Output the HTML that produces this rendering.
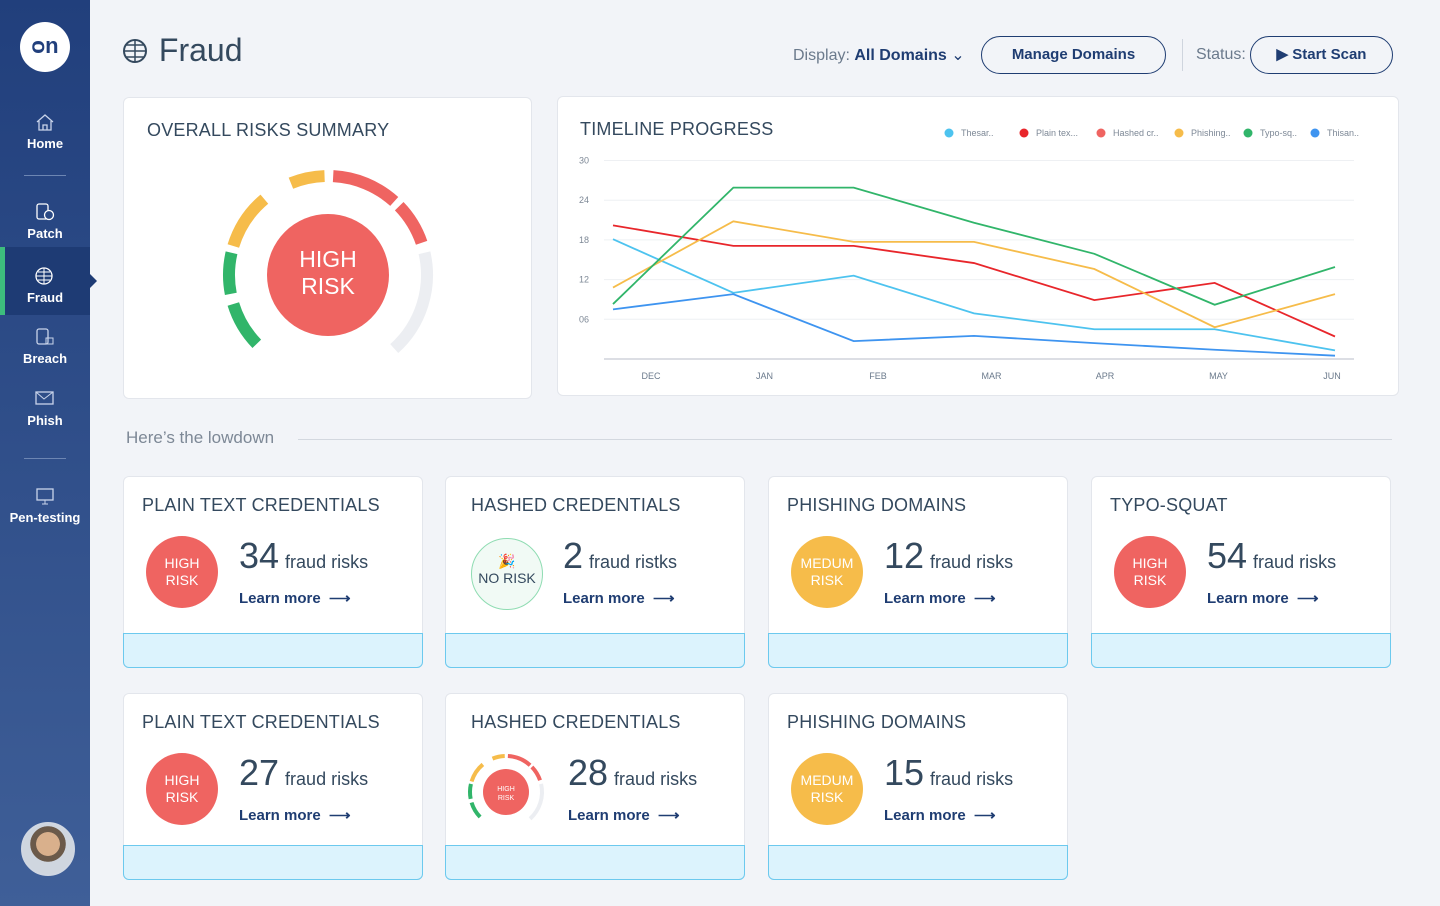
<!DOCTYPE html>
<html><head><meta charset="utf-8">
<style>
*{box-sizing:border-box;margin:0;padding:0}
body{width:1440px;height:906px;overflow:hidden;background:#f2f4f8;font-family:"Liberation Sans",sans-serif;color:#34495e;position:relative}
.abs{position:absolute}
#side{left:0;top:0;width:90px;height:906px;background:linear-gradient(#213f7c,#3f5f98)}
.nav{position:absolute;left:0;width:90px;text-align:center;color:#fff;font-size:13px;font-weight:bold}
.nav svg{display:block;margin:0 auto 4px}
.sep{position:absolute;left:24px;width:42px;height:1px;background:#6d86b3}
.card{position:absolute;background:#fff;border:1px solid #e3e6ec;border-radius:6px}
.ttl{position:absolute;font-size:18px;color:#34495e;letter-spacing:.2px}
.strip{position:absolute;left:-1px;right:-1px;bottom:-1px;height:35px;background:#dcf3fd;border:1px solid #6cc9ee;border-radius:0 0 6px 6px}
.badge{position:absolute;width:72px;height:72px;border-radius:50%;color:#fff;font-size:14px;text-align:center;line-height:17px;padding-top:19px}
.num{position:absolute;font-size:36px;color:#34495e}
.num span{font-size:18px;margin-left:6px}
.lm{position:absolute;font-size:15px;font-weight:bold;color:#1f3d72}
.btn{position:absolute;border:1.5px solid #1f3d72;border-radius:19px;color:#1f3d72;font-weight:bold;font-size:15px;text-align:center;line-height:35px}
#gauges{z-index:5;pointer-events:none}
#overall-lbl{z-index:6}
</style></head><body>
<div id="side" class="abs">
 <div class="abs" style="left:20px;top:22px;width:50px;height:50px;border-radius:50%;background:#fff;color:#213f7c;font-weight:bold;font-size:22px;text-align:center;line-height:48px">ᴑn</div>
 <div class="nav" style="top:112px"><svg width="20" height="20" viewBox="0 0 20 20"><path d="M2 10 L10 3 L18 10 M4 9 V18 H16 V9 M8 18 V13 H12 V18" fill="none" stroke="#c9d4ea" stroke-width="1.3"/></svg>Home</div>
 <div class="sep" style="top:175px"></div>
 <div class="nav" style="top:202px"><svg width="22" height="20" viewBox="0 0 22 20"><rect x="3" y="2" width="11" height="15" rx="2" fill="none" stroke="#fff" stroke-width="1.3"/><circle cx="15" cy="13" r="4.5" fill="#2b4a85" stroke="#fff" stroke-width="1.3"/></svg>Patch</div>
 <div class="abs" style="left:0;top:247px;width:90px;height:68px;background:#1e3b74"></div>
 <div class="abs" style="left:0;top:247px;width:5px;height:68px;background:#3dbd7d"></div>
 <div class="abs" style="left:90px;top:274px;width:0;height:0;border-top:7px solid transparent;border-bottom:7px solid transparent;border-left:7px solid #1e3b74"></div>
 <div class="nav" style="top:266px"><svg width="22" height="20" viewBox="0 0 22 20"><circle cx="10" cy="10" r="8" fill="none" stroke="#fff" stroke-width="1.3"/><path d="M2 10 H18 M10 2 V18 M4 6 H16 M4 14 H16" stroke="#fff" stroke-width="1"/></svg>Fraud</div>
 <div class="nav" style="top:327px"><svg width="22" height="20" viewBox="0 0 22 20"><rect x="3" y="2" width="11" height="15" rx="2" fill="none" stroke="#c9d4ea" stroke-width="1.3"/><rect x="12" y="11" width="7" height="6" fill="none" stroke="#c9d4ea"/></svg>Breach</div>
 <div class="nav" style="top:389px"><svg width="22" height="20" viewBox="0 0 22 20"><rect x="2" y="3" width="17" height="12" fill="none" stroke="#c9d4ea" stroke-width="1.3"/><path d="M2 3 L10 10 L19 3" fill="none" stroke="#c9d4ea"/></svg>Phish</div>
 <div class="sep" style="top:458px"></div>
 <div class="nav" style="top:486px"><svg width="22" height="20" viewBox="0 0 22 20"><rect x="3" y="3" width="16" height="11" fill="none" stroke="#c9d4ea" stroke-width="1.3"/><path d="M8 18 H14 M11 14 V18" stroke="#c9d4ea"/></svg>Pen-testing</div>
 <div class="abs" style="left:21px;top:822px;width:54px;height:54px;border-radius:50%;background:radial-gradient(circle at 50% 40%,#d9b08c 0 30%,#6b5a4a 31% 45%,#cfd6df 46%);border:2px solid #d0d7e2"></div>
</div>

<div class="abs" style="left:122px;top:32px;font-size:32px;color:#34495e"><svg width="28" height="28" viewBox="0 0 28 28" style="vertical-align:-4px"><circle cx="13" cy="14" r="11" fill="none" stroke="#34495e" stroke-width="2"/><path d="M2 14 H24 M13 3 V25 M4 8 H22 M4 20 H22" stroke="#34495e" stroke-width="1.5"/></svg> Fraud</div>
<div class="abs" style="left:793px;top:45px;font-size:16px;color:#6b7a8c">Display: <b style="color:#1f3d72">All Domains</b> <span style="color:#1f3d72">⌄</span></div>
<div class="btn" style="left:981px;top:36px;width:185px;height:38px">Manage Domains</div>
<div class="abs" style="left:1182px;top:39px;width:1px;height:32px;background:#cfd5de"></div>
<div class="abs" style="left:1196px;top:46px;font-size:16px;color:#6b7a8c">Status:</div>
<div class="btn" style="left:1250px;top:36px;width:143px;height:38px">▶ Start Scan</div>

<div class="card" style="left:123px;top:97px;width:409px;height:302px">
 <div class="ttl" style="left:23px;top:22px">OVERALL RISKS SUMMARY</div>
</div>

<div class="card" style="left:557px;top:96px;width:842px;height:300px">
 <div class="ttl" style="left:22px;top:22px">TIMELINE PROGRESS</div>
</div>
<svg class="abs" id="chart" style="left:0;top:0" width="1440" height="906"></svg>

<div class="abs" style="left:126px;top:428px;font-size:17px;color:#7d8896">Here’s the lowdown</div>
<div class="abs" style="left:298px;top:439px;width:1094px;height:1px;background:#d3d8df"></div>

<div id="cards"></div>
<svg class="abs" style="left:0;top:0" width="1440" height="906" id="gauges"></svg>
<div class="abs" id="overall-lbl" style="left:268px;top:246px;width:120px;text-align:center;color:#fff;font-size:23px;line-height:27px">HIGH<br>RISK</div>

<script>
// ---- chart data ----
const months=['DEC','JAN','FEB','MAR','APR','MAY','JUN'];
const yTicks=[6,12,18,24,30];
const yTickLabels=['06','12','18','24','30'];
const seriesNames=['Thesar..','Plain tex...','Hashed cr..','Phishing..','Typo-sq..','Thisan..'];
const seriesColors=['#4dc3ef','#e8262b','#ef6461','#f6bc4a','#31b56a','#3e94f0'];
const thesar=[18.1,10,12.6,6.9,4.5,4.5,1.3];
const plainText=[20.2,17.1,17.1,14.5,8.9,11.5,3.4];
const hashed=[];
const phishing=[10.8,20.8,17.7,17.7,13.6,4.8,9.8];
const typoSquat=[8.3,25.9,25.9,20.6,15.9,8.2,13.9];
const thisan=[7.5,9.8,2.7,3.5,2.4,1.4,0.5];
const allSeries=[thesar,plainText,hashed,phishing,typoSquat,thisan];

const NS='http://www.w3.org/2000/svg';
function mk(p,t,a){const e=document.createElementNS(NS,t);for(const k in a)e.setAttribute(k,a[k]);p.appendChild(e);return e;}
const ch=document.getElementById('chart');
const y0=359,yTop=160.5,yMax=30;
const ys=v=>y0-(v/yMax)*(y0-yTop);
const xs=i=>613+i*(1335-613)/(months.length-1);
const xl=i=>651+i*(1332-651)/(months.length-1);
yTicks.forEach((t,i)=>{
 const g=mk(ch,'line',{x1:604,x2:1354,y1:ys(t),y2:ys(t),stroke:'#eef0f3'});
 
 
 const tx=mk(ch,'text',{x:589,y:ys(t)+3,'text-anchor':'end','font-size':9,fill:'#7d8896','font-family':'Liberation Sans'});
 tx.textContent=yTickLabels[i];
 
 
});
const ax=mk(ch,'line',{x1:604,x2:1354,y1:y0,y2:y0,stroke:'#b8bec8'});


months.forEach((m,i)=>{
 const t=mk(ch,'text',{x:xl(i),y:379,'text-anchor':'middle','font-size':9,fill:'#6b7a8c','font-family':'Liberation Sans'});
 t.textContent=m;
 
 
});
allSeries.forEach((s,k)=>{
 if(!s.length)return;
 const p=mk(ch,'polyline',{points:s.map((v,i)=>xs(i)+','+ys(v)).join(' '),fill:'none',stroke:seriesColors[k],'stroke-width':1.8});
 
 
});
const legX=[949,1024,1101,1179,1248,1315];
seriesNames.forEach((n,k)=>{
 const c=mk(ch,'circle',{cx:legX[k],cy:133,r:4.5,fill:seriesColors[k]});
 
 
 const t=mk(ch,'text',{x:legX[k]+12,y:136,'font-size':9,fill:'#7d8896','font-family':'Liberation Sans'});
 t.textContent=n;
 
 
});

// ---- gauges ----
const gs=document.getElementById('gauges');
const segs=[[-73,-40,'#f6bc4a'],[-22,-2,'#f6bc4a'],[3,42,'#ef6461'],[46,71,'#ef6461'],[77,138,'#eceef2'],[-134,-107,'#31b56a'],[-101,-77,'#31b56a']];
function arc(cx,cy,r,a1,a2){const p=a=>[cx+r*Math.sin(a*Math.PI/180),cy-r*Math.cos(a*Math.PI/180)];const s=p(a1),e=p(a2);return 'M'+s[0]+' '+s[1]+' A'+r+' '+r+' 0 0 1 '+e[0]+' '+e[1];}
function gauge(cx,cy,r,w,ri,name){
 segs.forEach(s=>{const a=mk(gs,'path',{d:arc(cx,cy,r,s[0],s[1]),stroke:s[2],'stroke-width':w,fill:'none'});
 
 });
 const c=mk(gs,'circle',{cx:cx,cy:cy,r:ri,fill:'#ef6461'});
 
 
}
gauge(328,275,99,12,61,'overall-gauge');
gauge(506,792,36,4,23,'hashed-gauge');
const gt=mk(gs,'text',{x:506,y:791,'text-anchor':'middle','font-size':7,fill:'#fff','font-family':'Liberation Sans'});gt.textContent='HIGH';
const gt2=mk(gs,'text',{x:506,y:800,'text-anchor':'middle','font-size':7,fill:'#fff','font-family':'Liberation Sans'});gt2.textContent='RISK';

// ---- cards ----
const cardsData=[
 [123,476,192,'PLAIN TEXT CREDENTIALS','high','34','fraud risks'],
 [445,476,192,'HASHED CREDENTIALS','none','2','fraud ristks'],
 [768,476,192,'PHISHING DOMAINS','med','12','fraud risks'],
 [1091,476,192,'TYPO-SQUAT','high','54','fraud risks'],
 [123,693,187,'PLAIN TEXT CREDENTIALS','high','27','fraud risks'],
 [445,693,187,'HASHED CREDENTIALS','gauge','28','fraud risks'],
 [768,693,187,'PHISHING DOMAINS','med','15','fraud risks']];
const box=document.getElementById('cards');
cardsData.forEach(d=>{
 const [x,y,h,t,r,n,u]=d;
 const c=document.createElement('div');c.className='card';
 c.style.cssText=`left:${x}px;top:${y}px;width:300px;height:${h}px`;
 
 
 let badge='';
 const bx=22,by=r==='none'?61:59;
 if(r==='high')badge=`<div class="badge" style="left:${bx}px;top:${by}px;background:#ef6461">HIGH<br>RISK</div>`;
 if(r==='med')badge=`<div class="badge" style="left:${bx}px;top:${by}px;background:#f6bc4a">MEDUM<br>RISK</div>`;
 if(r==='none')badge=`<div class="badge" style="left:25px;top:61px;background:#f1faf5;border:1px solid #8fdcb2;color:#34495e;padding-top:14px;font-size:14px">🎉<br>NO RISK</div>`;
 const nx=r==='gauge'?122:(r==='none'?117:115);
 c.innerHTML=`<div class="ttl" style="left:${r==='none'||r==='gauge'?25:18}px;top:18px">${t}</div>${badge}
 <div class="num" style="left:${nx}px;top:58px">${n}<span>${u}</span></div>
 <div class="lm" style="left:${nx}px;top:112px">Learn more &nbsp;⟶</div>
 <div class="strip"></div>`;
 box.appendChild(c);
});
</script>
</body></html>
